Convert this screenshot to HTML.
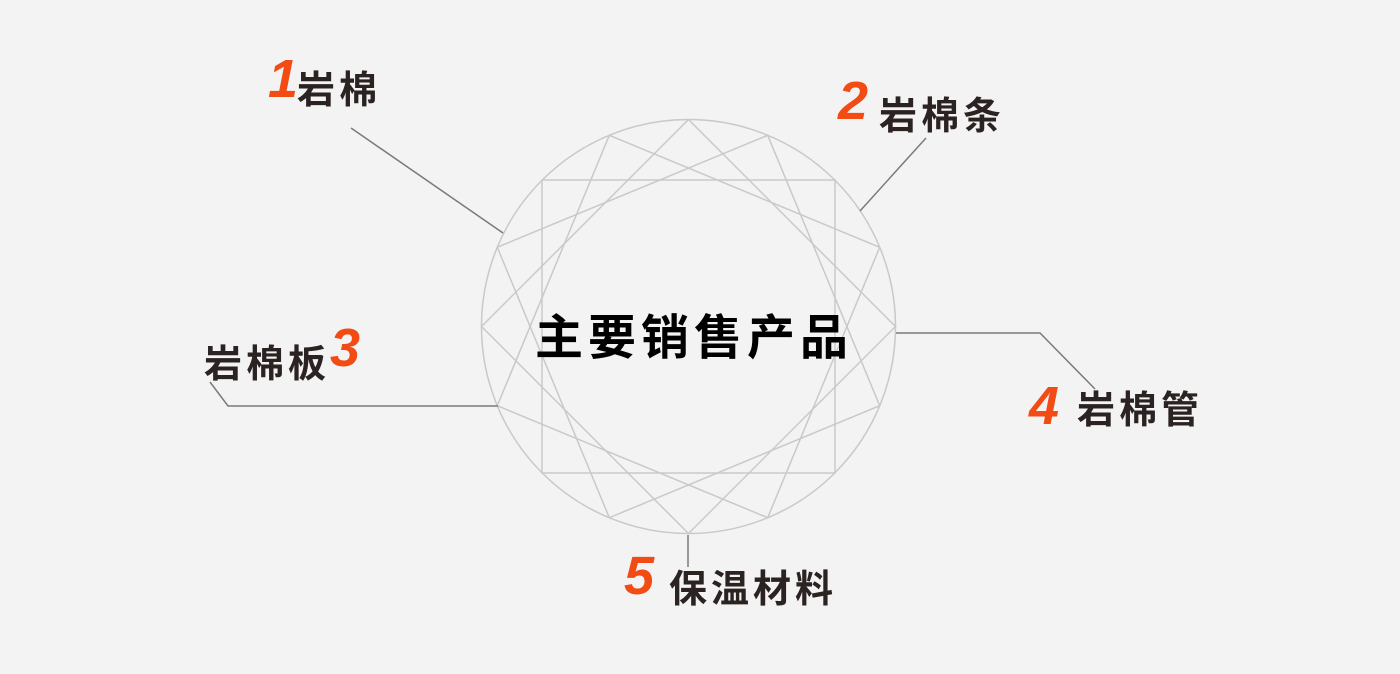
<!DOCTYPE html>
<html><head><meta charset="utf-8"><style>
html,body{margin:0;padding:0}
body{width:1400px;height:674px;background:#f3f3f3;position:relative;overflow:hidden;font-family:"Liberation Sans","Noto Sans CJK SC",sans-serif}
.t{position:absolute;font-weight:bold;color:#2b2222;font-size:38px;line-height:1;letter-spacing:4px;white-space:nowrap}
.n{position:absolute;font-weight:bold;font-style:italic;color:#f24b14;font-size:54px;line-height:1}
.c{position:absolute;left:535px;top:315px;font-size:48px;font-weight:bold;color:#000;letter-spacing:5px;line-height:1;white-space:nowrap}
</style></head><body>
<svg width="1400" height="674" style="position:absolute;left:0;top:0">
<g fill="none" stroke="#c9c9c9" stroke-width="1.5">
<circle cx="688.5" cy="326.5" r="207"/>
<polygon points="542,180 835,180 835,473 542,473"/>
<polygon points="688.5,119.5 895.5,326.5 688.5,533.5 481.5,326.5"/>
<polygon points="609.3,135.3 879.7,247.3 767.7,517.7 497.3,405.7"/>
<polygon points="767.7,135.3 879.7,405.7 609.3,517.7 497.3,247.3"/>
</g>
<g fill="none" stroke="#7a7a7a" stroke-width="1.5">
<polyline points="351,128 503,233"/>
<polyline points="926,138 860,211"/>
<polyline points="210,382 228,406 498,406"/>
<polyline points="896,333 1040,333 1095,389"/>
<polyline points="688,535 688,567"/>
</g>
</svg>
<div class="n" style="left:268px;top:52px">1</div>
<div class="t" style="left:297px;top:72px">岩棉</div>
<div class="n" style="left:838px;top:74px">2</div>
<div class="t" style="left:879px;top:98px">岩棉条</div>
<div class="t" style="left:204px;top:346px">岩棉板</div>
<div class="n" style="left:330px;top:321px">3</div>
<div class="n" style="left:1029px;top:379px">4</div>
<div class="t" style="left:1077px;top:392px">岩棉管</div>
<div class="n" style="left:624px;top:549px">5</div>
<div class="t" style="left:669px;top:571px">保温材料</div>
<div class="c">主要销售产品</div>
</body></html>
